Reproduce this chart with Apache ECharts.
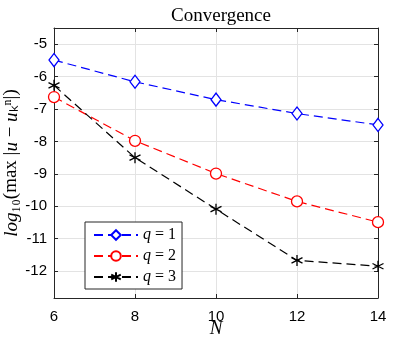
<!DOCTYPE html>
<html><head><meta charset="utf-8">
<script src="https://cdn.jsdelivr.net/npm/echarts@6/dist/echarts.min.js"></script>
<style>html,body{margin:0;padding:0;background:#fff}#c{width:417px;height:348px}</style>
</head><body><div id="c"></div>
<script>
const N = [6, 8, 10, 12, 14];
const q1 = [-5.49, -6.16, -6.71, -7.14, -7.49];
const q2 = [-6.63, -7.98, -8.99, -9.85, -10.49];
const q3 = [-6.27, -8.50, -10.09, -11.67, -11.85];
const yTicks = [-12, -11, -10, -9, -8, -7, -6, -5];
const xTicks = [6, 8, 10, 12, 14];
const names = ['q1', 'q2', 'q3'];
const legendLabels = {q1: '{i|q} = 1', q2: '{i|q} = 2', q3: '{i|q} = 3'};

const pairs = ys => N.map((x, i) => [x, ys[i]]);
const asterisk = 'path://M0,-10L0,10M-8.66,-5L8.66,5M-8.66,5L8.66,-5';
const axCol = '#262626';
const sans = 'Liberation Sans';
const serif = 'Liberation Serif';

const chart = echarts.init(document.getElementById('c'), null, {renderer: 'canvas'});
const baseLine = (name, ys, color, symbol, size) => ({
  name, type: 'line', data: pairs(ys), symbol, symbolSize: size,
  lineStyle: {color, width: 1.2, type: [9, 5]},
  itemStyle: {color: symbol.startsWith('path') ? color : '#fff', borderColor: color, borderWidth: 1.3},
  emphasis: {disabled: true}, animation: false, z: 3
});
chart.setOption({
  backgroundColor: '#fff',
  animation: false,
  title: {text: 'Convergence', left: 216, textAlign: 'center', top: 2,
    textStyle: {fontFamily: serif, fontWeight: 'normal', fontSize: 19, color: '#000'}},
  grid: {left: 54, right: 39, top: 28, bottom: 50, containLabel: false, outerBoundsMode: 'none'},
  legend: {
    left: 85, top: 222, orient: 'vertical',
    padding: [5, 6, 4, 8], itemGap: 5, itemWidth: 44, itemHeight: 12,
    borderColor: axCol, borderWidth: 1, backgroundColor: '#fff',
    data: names,
    formatter: n => legendLabels[n],
    textStyle: {fontFamily: serif, fontSize: 16, color: '#000',
      rich: {i: {fontFamily: serif, fontStyle: 'italic', fontSize: 16, color: '#000'}}}
  },
  xAxis: [{
    type: 'value', min: 6, max: 14, interval: 2,
    name: 'N', nameLocation: 'middle', nameGap: 21, nameMoveOverlap: false,
    nameTextStyle: {fontFamily: serif, fontStyle: 'italic', fontSize: 19, color: '#000'},
    axisLine: {show: true, lineStyle: {color: axCol, width: 1}},
    axisTick: {show: true, inside: true, length: 4, lineStyle: {color: axCol}},
    axisLabel: {fontFamily: sans, fontSize: 15, color: '#000', margin: 11},
    splitLine: {show: true, lineStyle: {color: '#e3e3e3', width: 1}}
  }, {
    type: 'value', position: 'top', min: 6, max: 14, interval: 2,
    axisLine: {show: true, onZero: false, lineStyle: {color: axCol, width: 1}},
    axisTick: {show: true, inside: true, length: 4, lineStyle: {color: axCol}},
    axisLabel: {show: false}, splitLine: {show: false}
  }],
  yAxis: [{
    type: 'value', min: -12.83, max: -4.5,
    name: '{i|log}₁₀(max |{i|u} − {i|u}ₖⁿ|)', nameLocation: 'middle', nameGap: 33, nameRotate: 90,
    nameMoveOverlap: false,
    nameTextStyle: {fontFamily: serif, fontSize: 19, color: '#000',
      rich: {i: {fontFamily: serif, fontStyle: 'italic', fontSize: 19, color: '#000'}}},
    axisLine: {show: true, onZero: false, lineStyle: {color: axCol, width: 1}},
    axisTick: {show: true, inside: true, length: 4, lineStyle: {color: axCol}, customValues: yTicks},
    axisLabel: {fontFamily: sans, fontSize: 15, color: '#000', margin: 7, customValues: yTicks},
    splitLine: {show: true, lineStyle: {color: '#e3e3e3', width: 1}}
  }, {
    type: 'value', position: 'right', min: -12.83, max: -4.5,
    axisLine: {show: true, onZero: false, lineStyle: {color: axCol, width: 1}},
    axisTick: {show: true, inside: true, length: 4, lineStyle: {color: axCol}, customValues: yTicks},
    axisLabel: {show: false}, splitLine: {show: false}
  }],
  series: [
    baseLine('q1', q1, '#0000ff', 'diamond', [10, 13]),
    baseLine('q2', q2, '#ff0000', 'circle', 11),
    baseLine('q3', q3, '#000000', asterisk, 11)
  ]
});
</script></body></html>
